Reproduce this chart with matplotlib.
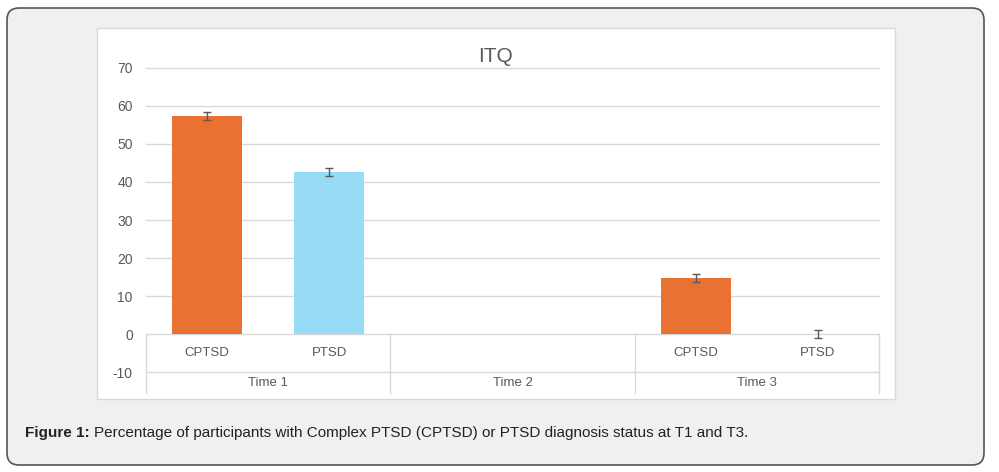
import matplotlib.pyplot as plt
from matplotlib.patches import FancyBboxPatch, Rectangle
import numpy as np

plt.rcParams['font.family'] = ['Liberation Sans', 'DejaVu Sans']

# data
groups = ['Time 1', 'Time 2', 'Time 3']
slot_labels = ['CPTSD', 'PTSD', '', '', 'CPTSD', 'PTSD']
slot_values = [57.4, 42.6, np.nan, np.nan, 14.7, 0.0]
slot_errors = [1.0, 1.0, np.nan, np.nan, 1.05, 1.05]
slot_colors = ['#E97132', '#97DBF7', 'none', 'none', '#E97132', '#97DBF7']
yticks = [70, 60, 50, 40, 30, 20, 10, 0, -10]

W, H = 999, 472
fig = plt.figure(figsize=(W / 100, H / 100), dpi=100)
fig.patch.set_facecolor('white')

# outer rounded box
bg = FancyBboxPatch((7 / W, 7 / H), (984 - 7) / W, (464 - 7) / H,
                    boxstyle='round,pad=0,rounding_size=0.012',
                    transform=fig.transFigure, facecolor='#f0f0f0',
                    edgecolor='#555555', linewidth=1.2, mutation_aspect=W / H,
                    zorder=-20)
fig.patches.append(bg)
# white chart panel
panel = Rectangle((97 / W, 1 - 399 / H), (895 - 97) / W, (399 - 28) / H,
                  transform=fig.transFigure, facecolor='white',
                  edgecolor='#d9d9d9', linewidth=1, zorder=-10)
fig.patches.append(panel)

ax = fig.add_axes([146 / W, 1 - 393 / H, (879 - 146) / W, (393 - 67.7) / H])
ax.set_facecolor('none')
ax.set_xlim(0, 6)
ax.set_ylim(-15.4, 70)
for s in ax.spines.values():
    s.set_visible(False)

x = np.arange(len(slot_values)) + 0.5
gc = '#d9d9d9'
for v in [10, 20, 30, 40, 50, 60, 70]:
    ax.axhline(v, color=gc, lw=1, zorder=0, clip_on=False)
ax.axhline(0, color=gc, lw=1, zorder=0)
ax.axhline(-10, color=gc, lw=1, zorder=0)
for b in [0, 2, 4, 6]:
    ax.plot([b, b], [0, -15.4], color=gc, lw=1, clip_on=False, zorder=0)

vals = np.nan_to_num(slot_values)
ax.bar(x, vals, width=0.57, color=slot_colors, zorder=2)
ax.errorbar(x, slot_values, yerr=slot_errors, fmt='none', ecolor='#595959',
            elinewidth=1, capsize=3, capthick=1, zorder=3)

ax.set_yticks(yticks)
ax.set_yticklabels([str(t) for t in yticks])
ax.tick_params(axis='y', length=0, pad=9.5, labelsize=10, labelcolor='#595959')
ax.set_xticks([])

for xi, lab in zip(x, slot_labels):
    ax.text(xi, -5, lab, ha='center', va='center', fontsize=9.5, color='#595959')
for i, g in enumerate(groups):
    ax.text(2 * i + 1, -12.75, g, ha='center', va='center', fontsize=9.5,
            color='#595959')

fig.text(496 / W, 1 - 56.5 / H, 'ITQ', ha='center', va='center',
         fontsize=15, color='#595959')

cap1 = fig.text(25 / W, 1 - 433 / H, 'Figure 1:', ha='left', va='center',
                fontsize=11, fontweight='bold', color='#222222')
fig.canvas.draw()
bb = cap1.get_window_extent()
fig.text((bb.x1 + 4) / W, 1 - 433 / H,
         'Percentage of participants with Complex PTSD (CPTSD) or PTSD diagnosis status at T1 and T3.',
         ha='left', va='center', fontsize=11, color='#222222')

fig.savefig('out.png', dpi=100)
